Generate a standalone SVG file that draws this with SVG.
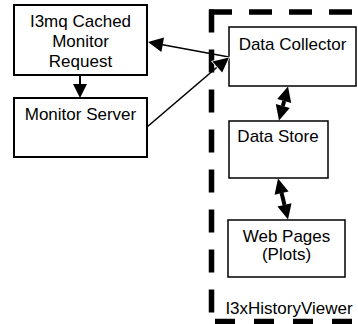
<svg xmlns="http://www.w3.org/2000/svg" width="358" height="324" viewBox="0 0 358 324">
  <style>
    .box { fill: #fff; stroke: #000; }
    .lbl { font-family: "Liberation Sans", Arial, sans-serif; font-size: 17px; fill: #000; text-anchor: middle; }
    .edge { stroke: #000; fill: none; }
    .head { fill: #000; }
    .bound { stroke: #000; stroke-width: 5.5; fill: none; }
  </style>
  <rect width="358" height="324" fill="#fff"/>

  <!-- dashed boundary of the history viewer -->
  <g id="viewer-boundary">
    <path class="bound" d="M211.5,9.5 L211.5,324" stroke-dasharray="23 17"/>
    <path class="bound" d="M209,12 L358,12" stroke-dasharray="23 17"/>
    <path class="bound" d="M215,321.5 L358,321.5" stroke-dasharray="20 19"/>
    <text class="lbl" x="289" y="314">I3xHistoryViewer</text>
  </g>

  <g id="node-request">
    <rect class="box" x="14" y="5" width="133" height="70" stroke-width="2"/>
    <text class="lbl" x="80.5" y="27">I3mq Cached</text>
    <text class="lbl" x="80.5" y="47">Monitor</text>
    <text class="lbl" x="80.5" y="67">Request</text>
  </g>

  <g id="node-server">
    <rect class="box" x="14" y="98" width="133" height="59" stroke-width="2"/>
    <text class="lbl" x="80.5" y="120">Monitor Server</text>
  </g>

  <g id="node-collector">
    <rect class="box" x="229" y="27" width="127" height="59" stroke-width="1.5"/>
    <text class="lbl" x="292.5" y="50">Data Collector</text>
  </g>

  <g id="node-store">
    <rect class="box" x="229" y="121" width="99" height="57" stroke-width="1.5"/>
    <text class="lbl" x="278" y="142">Data Store</text>
  </g>

  <g id="node-web">
    <rect class="box" x="228" y="220" width="117" height="57" stroke-width="1.5"/>
    <text class="lbl" x="286.5" y="242">Web Pages</text>
    <text class="lbl" x="286.5" y="260">(Plots)</text>
  </g>

  <g id="connectors">
    <!-- request -> server -->
    <line class="edge" x1="80" y1="75" x2="80" y2="86" stroke-width="2"/>
    <polygon class="head" points="73,84 87,84 80,98"/>

    <!-- collector -> request -->
    <line class="edge" x1="229" y1="57" x2="160" y2="44.3" stroke-width="1.6"/>
    <polygon class="head" points="148,42 164,37.5 161.4,51.9"/>

    <!-- server -> collector -->
    <line class="edge" x1="147" y1="127" x2="219" y2="65.5" stroke-width="1.6"/>
    <polygon class="head" points="229,57.5 222.2,72.6 212.4,61.4" stroke="#fff" stroke-width="1.5" paint-order="stroke"/>

    <!-- collector <-> store -->
    <line class="edge" x1="284.2" y1="101" x2="282.8" y2="106" stroke-width="4"/>
    <polygon class="head" points="288,86.5 291.2,102.9 277.2,99.1"/>
    <polygon class="head" points="279,120.5 289.8,107.9 275.8,104.1"/>

    <!-- store <-> web pages -->
    <line class="edge" x1="281.6" y1="193.1" x2="284.5" y2="204.9" stroke-width="4"/>
    <polygon class="head" points="278,178.5 288.6,191.4 274.6,194.8"/>
    <polygon class="head" points="288,219.5 291.5,203.2 277.5,206.6"/>
  </g>
</svg>
